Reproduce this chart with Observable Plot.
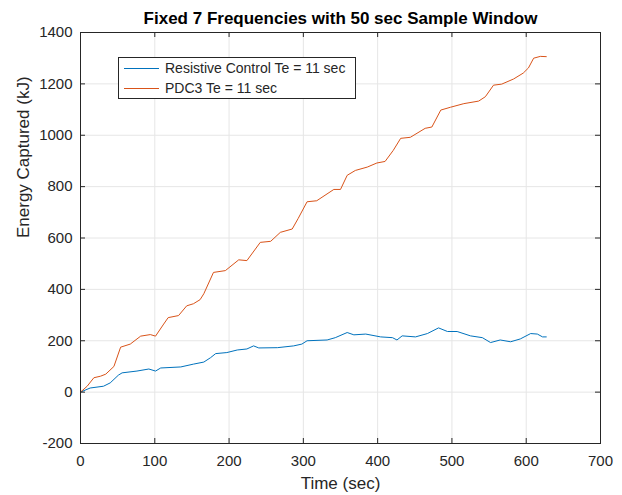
<!DOCTYPE html>
<html>
<head>
<meta charset="utf-8">
<script src="https://cdn.jsdelivr.net/npm/d3@7"></script>
<script src="https://cdn.jsdelivr.net/npm/@observablehq/plot@0.6"></script>
<style>
  body { margin: 0; background: #fff; }
  #wrap { position: relative; width: 622px; height: 495px; font-family: "Liberation Sans", Arial, sans-serif; }
  #legend { position: absolute; left: 118px; top: 57px; width: 236px; height: 40px; border: 1px solid #262626; background: #fff; font-size: 14px; color: #262626; }
  .row { position: absolute; left: 0; height: 20px; display: flex; align-items: center; }
  .swatch { display: inline-block; width: 35px; height: 0; border-top: 1px solid; margin-left: 5px; margin-right: 6px; }
</style>
</head>
<body>
<div id="wrap"></div>
<script>
const title = "Fixed 7 Frequencies with 50 sec Sample Window";
const xLabel = "Time (sec)";
const yLabel = "Energy Captured (kJ)";
const seriesNames = ["Resistive Control Te = 11 sec", "PDC3 Te = 11 sec"];
const seriesColors = ["#0072BD", "#D95319"];
const xTicks = [0, 100, 200, 300, 400, 500, 600, 700];
const yTicks = [-200, 0, 200, 400, 600, 800, 1000, 1200, 1400];

const resistiveTime = [0, 13, 31, 40, 51, 56, 76, 92, 101, 108, 135, 152, 166, 175, 182, 197, 211, 224, 233, 240, 265, 287, 298, 305, 332, 343, 359, 368, 384, 404, 420, 426, 433, 451, 467, 482, 494, 507, 525, 541, 552, 565, 579, 592, 606, 615, 622, 627];
const resistiveEnergy = [0, 16, 23, 36, 66, 75, 82, 90, 82, 94, 98, 109, 117, 134, 150, 154, 164, 168, 180, 172, 173, 180, 187, 200, 203, 212, 232, 223, 226, 215, 212, 203, 219, 215, 228, 250, 236, 236, 219, 212, 193, 203, 196, 207, 228, 226, 215, 215];

const pdcTime = [0, 9, 18, 27, 34, 45, 54, 67, 81, 94, 101, 112, 118, 132, 143, 152, 161, 166, 179, 195, 213, 224, 242, 256, 269, 285, 293, 305, 318, 341, 350, 359, 370, 386, 399, 410, 421, 431, 444, 464, 473, 485, 498, 516, 536, 545, 556, 567, 583, 596, 603, 610, 619, 627];
const pdcEnergy = [0, 23, 56, 62, 70, 100, 175, 187, 218, 224, 218, 265, 290, 298, 336, 344, 360, 383, 466, 473, 515, 512, 583, 587, 622, 635, 676, 741, 745, 789, 789, 844, 863, 876, 892, 898, 941, 988, 992, 1027, 1032, 1098, 1109, 1123, 1133, 1150, 1195, 1199, 1219, 1242, 1262, 1300, 1307, 1306];

const resistive = resistiveTime.map((t, i) => ({t, v: resistiveEnergy[i]}));
const pdc = pdcTime.map((t, i) => ({t, v: pdcEnergy[i]}));

const W = 622, H = 495, mL = 80, mR = 22, mT = 32, mB = 52;
const plotW = W - mL - mR, plotH = H - mT - mB;
const ink = "#262626";
const fmt = d => String(d);

const chart = Plot.plot({
  width: W, height: H,
  marginLeft: mL, marginRight: mR, marginTop: mT, marginBottom: mB,
  style: {fontFamily: "'Liberation Sans', Arial, sans-serif", color: ink, background: "#fff"},
  x: {domain: [0, 700], ticks: xTicks},
  y: {domain: [-200, 1400], ticks: yTicks},
  marks: [
    Plot.gridX(xTicks, {stroke: "#e6e6e6", strokeOpacity: 1}),
    Plot.gridY(yTicks, {stroke: "#e6e6e6", strokeOpacity: 1}),
    Plot.line(resistive, {x: "t", y: "v", stroke: seriesColors[0], strokeWidth: 1}),
    Plot.line(pdc, {x: "t", y: "v", stroke: seriesColors[1], strokeWidth: 1}),
    Plot.frame({stroke: ink, strokeWidth: 1}),
    Plot.ruleX(xTicks, {x: d => d, stroke: ink, insetTop: plotH - 5}),
    Plot.ruleX(xTicks, {x: d => d, stroke: ink, insetBottom: plotH - 5}),
    Plot.ruleY(yTicks, {y: d => d, stroke: ink, insetRight: plotW - 5}),
    Plot.ruleY(yTicks, {y: d => d, stroke: ink, insetLeft: plotW - 5}),
    Plot.axisX(xTicks, {tickSize: 0, tickPadding: 12, fontSize: 15, label: null, fill: ink, tickFormat: fmt}),
    Plot.axisY(yTicks, {tickSize: 0, tickPadding: 8, fontSize: 15, label: null, fill: ink, tickFormat: fmt}),
    Plot.text([title], {frameAnchor: "top", dy: -14, fontSize: 17, fontWeight: "bold", fill: "#000", lineAnchor: "middle"}),
    Plot.text([xLabel], {frameAnchor: "bottom", dy: 40, fontSize: 17, fill: ink, lineAnchor: "middle"}),
    Plot.text([yLabel], {frameAnchor: "left", dx: -57, rotate: -90, fontSize: 17, fill: ink, lineAnchor: "middle"})
  ]
});

const wrap = document.getElementById("wrap");
wrap.appendChild(chart);

const legend = document.createElement("div");
legend.id = "legend";
seriesNames.forEach((name, i) => {
  const row = document.createElement("div");
  row.className = "row";
  row.style.top = (i * 20 + 0) + "px";
  const sw = document.createElement("span");
  sw.className = "swatch";
  sw.style.borderTopColor = seriesColors[i];
  const label = document.createElement("span");
  label.textContent = name;
  row.appendChild(sw);
  row.appendChild(label);
  legend.appendChild(row);
});
wrap.appendChild(legend);
</script>
</body>
</html>
